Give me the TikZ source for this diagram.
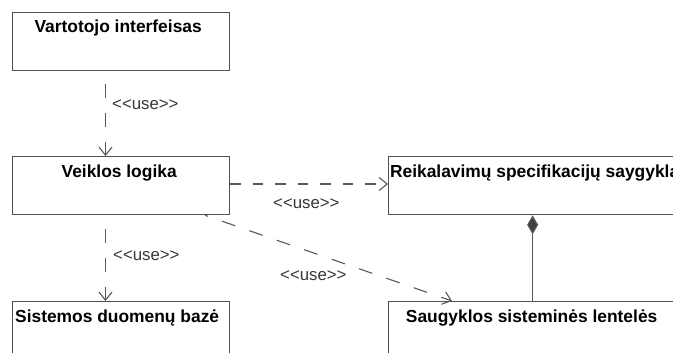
\documentclass[tikz,border=0pt]{standalone}
\usepackage{fontspec}
\setmainfont{Liberation Sans}
\usetikzlibrary{arrows.meta,calc}
\begin{document}
\begin{tikzpicture}[x=1pt,y=-1pt,
  clsbox/.style={draw=black!68, line width=1.3pt, anchor=north west, inner sep=0pt, minimum height=58pt},
  leftbox/.style={clsbox, minimum width=217pt},
  rightbox/.style={clsbox, minimum width=288pt},
  title/.style={anchor=base, inner sep=0pt, font=\bfseries\fontsize{17.4}{20}\selectfont},
  stereo/.style={anchor=base west, inner sep=0pt, text=black!78, font=\fontsize{16.8}{19}\selectfont},
  dep/.style={draw=black!65, line width=1.1pt, -{Straight Barb[length=8pt,width=13pt,line width=1.1pt]}},
  compo/.style={draw=black!65, line width=1.1pt, {Diamond[length=19pt,width=11pt,fill=black!75]}-}
]
\useasboundingbox (0,0) rectangle (673,353);
\clip (0,0) rectangle (673,353);
\fill[white] (0,0) rectangle (673,353);

% boxes
\node[leftbox]  (vi)  at (12,12)  {};
\node[leftbox]  (vl)  at (12,156) {};
\node[leftbox]  (sdb) at (12,301) {};
\node[rightbox] (rs)  at (388,156) {};
\node[rightbox] (sst) at (388,301) {};

% titles
\node[title] (tvi)  at ($(vi.north)+(-3,21)$)  {Vartotojo interfeisas};
\node[title] (tvl)  at ($(vl.north)+(-2,21)$)  {Veiklos logika};
\node[title] (tsdb) at ($(sdb.north)+(-4,21)$) {Sistemos duomenų bazė};
\node[title] (trs)  at ($(rs.north)+(2,21)$)   {Reikalavimų specifikacijų saygykla};
\node[title] (tsst) at ($(sst.north)+(-1,21)$) {Saugyklos sisteminės lentelės};

% dependencies
\draw[dep, dash pattern=on 14pt off 15pt, dash phase=16pt]
  ($(vi.south west)+(93.5,0)$) -- ($(vl.north west)+(93.5,0)$);
\draw[dep, dash pattern=on 10.5pt off 12pt]
  ($(vl.north east)+(0,28)$) -- ($(rs.north west)+(0,28)$);
\draw[dep, dash pattern=on 14pt off 15pt, dash phase=15pt]
  ($(vl.south west)+(93.5,0)$) -- ($(sdb.north west)+(93.5,0)$);
\draw[dep, dash pattern=on 14pt off 15pt, dash phase=11pt]
  ($(vl.south west)+(193,0)$) -- ($(sst.north west)+(64,0)$);

% composition
\draw[compo] (rs.south) -- (sst.north);

% stereotypes
\node[stereo] (u1) at (112,110) {<{}<use>{}>};
\node[stereo] (u2) at (273,208) {<{}<use>{}>};
\node[stereo] (u3) at (113,260) {<{}<use>{}>};
\node[stereo] (u4) at (280,280) {<{}<use>{}>};
\end{tikzpicture}
\end{document}
